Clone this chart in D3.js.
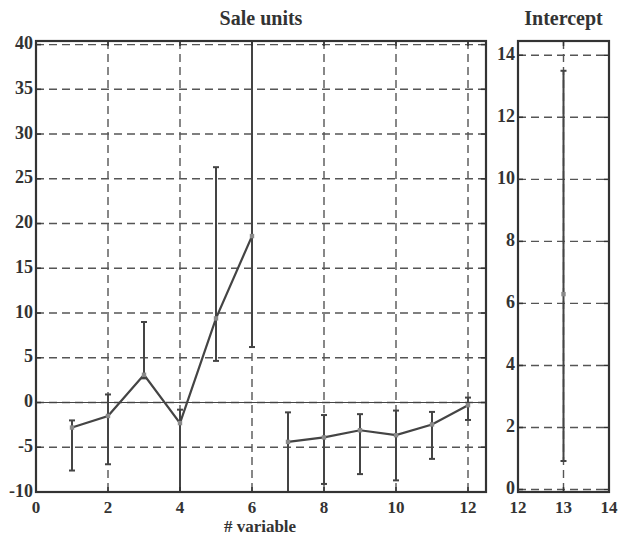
<!DOCTYPE html>
<html>
<head>
<meta charset="utf-8">
<script src="https://cdn.jsdelivr.net/npm/d3@7"></script>
<style>
  html, body { margin: 0; padding: 0; background: #fff; }
  svg text { font-family: "Liberation Serif", "DejaVu Serif", serif; font-weight: bold; fill: #333; }
</style>
</head>
<body>
<svg id="chart" width="619" height="536"></svg>
<script>
// Coefficient estimates per variable with their interval bounds
const variables = [1, 2, 3, 4, 5, 6, 7, 8, 9, 10, 11, 12];
const estimates = [-2.8, -1.5, 3.1, -2.3, 9.4, 18.6, -4.4, -3.9, -3.1, -3.65, -2.45, -0.3];
const upperBounds = [-2.0, 0.9, 9.0, -0.8, 26.3, 42.0, -1.1, -1.4, -1.3, -0.9, -1.05, 0.55];
const lowerBounds = [-7.6, -6.9, 2.7, -11.0, 4.65, 6.2, -11.0, -9.1, -8.0, -8.7, -6.3, -1.95];

// Intercept estimate and bounds
const interceptX = [13];
const interceptEst = [6.3];
const interceptUpper = [13.5];
const interceptLower = [0.92];

// Tick values
const mainXTicks = [0, 2, 4, 6, 8, 10, 12];
const mainYTicks = [-10, -5, 0, 5, 10, 15, 20, 25, 30, 35, 40];
const sideXTicks = [12, 13, 14];
const sideYTicks = [0, 2, 4, 6, 8, 10, 12, 14];

const svg = d3.select("#chart");
const plotTop = 41, plotBottom = 492;

const lineCol = "#444", markCol = "#8a8a8a", gridCol = "#555", frameCol = "#333";

function panel(opts) {
  const { id, x, y, xTicks, yTicks, title, xs, est, up, lo, zeroLine, connect } = opts;
  const g = svg.append("g");
  const [x0, x1] = x.range();
  g.append("clipPath").attr("id", id).append("rect")
    .attr("x", x0).attr("y", plotTop).attr("width", x1 - x0).attr("height", plotBottom - plotTop);

  const plot = g.append("g").attr("clip-path", `url(#${id})`);

  // dashed grid
  plot.selectAll(".gx").data(xTicks).join("line")
    .attr("x1", d => x(d)).attr("x2", d => x(d)).attr("y1", plotTop).attr("y2", plotBottom)
    .attr("stroke", gridCol).attr("stroke-width", 1.4).attr("stroke-dasharray", "8,5");
  plot.selectAll(".gy").data(yTicks).join("line")
    .attr("y1", d => y(d)).attr("y2", d => y(d)).attr("x1", x0).attr("x2", x1)
    .attr("stroke", gridCol).attr("stroke-width", 1.4).attr("stroke-dasharray", "8,5");

  if (zeroLine) {
    plot.append("line").attr("x1", x0).attr("x2", x1).attr("y1", y(0)).attr("y2", y(0))
      .attr("stroke", lineCol).attr("stroke-width", 1.2);
  }

  // interval bars with caps
  const idx = d3.range(xs.length);
  plot.selectAll(".eb").data(idx).join("line")
    .attr("x1", i => x(xs[i])).attr("x2", i => x(xs[i]))
    .attr("y1", i => y(up[i])).attr("y2", i => y(lo[i]))
    .attr("stroke", lineCol).attr("stroke-width", 2);
  const capW = 3;
  plot.selectAll(".capU").data(idx).join("line")
    .attr("x1", i => x(xs[i]) - capW).attr("x2", i => x(xs[i]) + capW)
    .attr("y1", i => y(up[i])).attr("y2", i => y(up[i]))
    .attr("stroke", lineCol).attr("stroke-width", 2);
  plot.selectAll(".capL").data(idx).join("line")
    .attr("x1", i => x(xs[i]) - capW).attr("x2", i => x(xs[i]) + capW)
    .attr("y1", i => y(lo[i])).attr("y2", i => y(lo[i]))
    .attr("stroke", lineCol).attr("stroke-width", 2);

  if (connect) {
    // connect consecutive estimates, broken between 6 and 7
    const line = d3.line().x(i => x(xs[i])).y(i => y(est[i]));
    const segs = [];
    let cur = [0];
    for (let i = 1; i < xs.length; i++) {
      if (xs[i] === 7) { segs.push(cur); cur = [i]; } else cur.push(i);
    }
    segs.push(cur);
    plot.selectAll(".ln").data(segs).join("path")
      .attr("d", s => line(s)).attr("fill", "none")
      .attr("stroke", lineCol).attr("stroke-width", 2.2);
  }

  plot.selectAll(".mk").data(idx).join("rect")
    .attr("x", i => x(xs[i]) - 2.2).attr("y", i => y(est[i]) - 2.2)
    .attr("width", 4.4).attr("height", 4.4).attr("fill", markCol);

  // inward ticks on all four sides
  const tl = 5;
  const tk = g.append("g").attr("stroke", frameCol).attr("stroke-width", 1.5);
  xTicks.forEach(t => {
    tk.append("line").attr("x1", x(t)).attr("x2", x(t)).attr("y1", plotTop).attr("y2", plotTop + tl);
    tk.append("line").attr("x1", x(t)).attr("x2", x(t)).attr("y1", plotBottom).attr("y2", plotBottom - tl);
  });
  yTicks.forEach(t => {
    tk.append("line").attr("y1", y(t)).attr("y2", y(t)).attr("x1", x0).attr("x2", x0 + tl);
    tk.append("line").attr("y1", y(t)).attr("y2", y(t)).attr("x1", x1).attr("x2", x1 - tl);
  });

  // frame
  g.append("rect").attr("x", x0).attr("y", plotTop).attr("width", x1 - x0).attr("height", plotBottom - plotTop)
    .attr("fill", "none").attr("stroke", frameCol).attr("stroke-width", 2.2);

  // tick labels
  g.selectAll(".yl").data(yTicks).join("text")
    .attr("x", x0 - 3).attr("y", d => y(d)).attr("dy", "0.25em")
    .attr("text-anchor", "end").attr("font-size", 18).text(d => d);
  g.selectAll(".xl").data(xTicks).join("text")
    .attr("x", d => x(d)).attr("y", 513)
    .attr("text-anchor", "middle").attr("font-size", 17).text(d => d);

  g.append("text").attr("x", (x0 + x1) / 2).attr("y", 25)
    .attr("text-anchor", "middle").attr("font-size", 20).text(title);
}

const xMain = d3.scaleLinear().domain([0, 12.5]).range([36, 486]);
const yMain = d3.scaleLinear().domain([-10, 40.4]).range([plotBottom, plotTop]);
panel({ id: "clipMain", x: xMain, y: yMain, xTicks: mainXTicks, yTicks: mainYTicks,
  title: "Sale units", xs: variables, est: estimates, up: upperBounds, lo: lowerBounds,
  zeroLine: true, connect: true });

const xSide = d3.scaleLinear().domain([12, 14]).range([518, 609]);
const ySide = d3.scaleLinear().domain([-0.08, 14.46]).range([plotBottom, plotTop]);
panel({ id: "clipSide", x: xSide, y: ySide, xTicks: sideXTicks, yTicks: sideYTicks,
  title: "Intercept", xs: interceptX, est: interceptEst, up: interceptUpper, lo: interceptLower,
  zeroLine: false, connect: false });

svg.append("text").attr("x", 260).attr("y", 532.3).attr("text-anchor", "middle")
  .attr("font-size", 17).text("# variable");
</script>
</body>
</html>
